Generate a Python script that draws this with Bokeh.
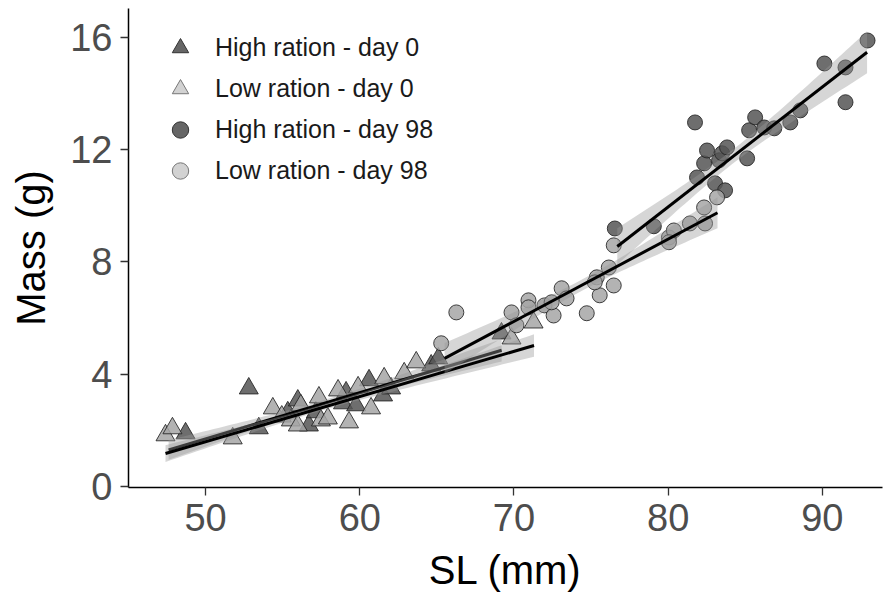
import numpy as np
from bokeh.plotting import figure
from bokeh.models import Legend, LegendItem, Range1d, FixedTicker, ColumnDataSource
from bokeh.embed import file_html
from bokeh.resources import INLINE

# ---------------- data ----------------
# High ration - day 0 (dark triangles)
hi0_sl   = [48.70, 52.80, 53.45, 55.33, 55.98, 56.70, 57.15, 58.91, 59.11, 59.76, 60.60, 61.51, 62.03, 64.63, 65.09, 69.19]
hi0_mass = [1.89, 3.49, 2.07, 2.64, 3.06, 2.17, 2.64, 2.96, 3.35, 2.89, 3.78, 3.24, 3.49, 4.31, 4.56, 5.45]
# Low ration - day 0 (light triangles)
lo0_sl   = [47.40, 47.85, 51.76, 54.36, 54.94, 55.53, 56.18, 55.98, 57.35, 57.48, 57.93, 58.59, 59.30, 59.89, 60.73, 61.58, 62.88, 63.66, 69.84, 71.27]
lo0_mass = [1.82, 2.07, 1.71, 2.78, 2.49, 2.35, 2.89, 2.17, 3.17, 2.35, 2.42, 3.42, 2.28, 3.53, 2.78, 3.85, 4.03, 4.42, 5.27, 5.84]
# High ration - day 98 (dark circles)
hi98_sl   = [76.54, 79.07, 81.74, 81.87, 82.33, 82.52, 83.04, 83.30, 83.50, 83.82, 83.69, 85.12, 85.25, 85.64, 86.23, 86.88, 87.92, 88.57, 90.13, 91.50, 91.50, 92.93]
hi98_mass = [9.19, 9.27, 12.97, 11.01, 11.51, 11.97, 10.80, 11.62, 11.87, 12.08, 10.55, 11.69, 12.69, 13.15, 12.79, 12.76, 12.97, 13.40, 15.07, 14.93, 13.69, 15.89]
# Low ration - day 98 (light circles)
lo98_sl   = [65.28, 66.26, 69.84, 70.16, 70.94, 70.94, 71.98, 72.57, 73.09, 73.41, 72.44, 74.72, 75.37, 75.56, 75.24, 76.15, 76.47, 76.47, 80.05, 80.37, 80.05, 81.41, 82.39, 82.33, 83.17]
lo98_mass = [5.10, 6.20, 6.20, 5.74, 6.63, 6.38, 6.45, 6.09, 7.06, 6.70, 6.56, 6.17, 7.45, 6.81, 7.27, 7.80, 7.16, 8.59, 8.87, 9.12, 8.70, 9.37, 9.37, 9.94, 10.30]

# fitted lines: [start, end] and confidence half-widths [start, minimum, end]
hi0_fit_x, hi0_fit_y, hi0_ci = [47.6, 69.2], [1.30, 4.85], [0.35, 0.12, 0.40]
lo0_fit_x, lo0_fit_y, lo0_ci = [47.4, 71.3], [1.17, 5.02], [0.30, 0.10, 0.40]
hi98_fit_x, hi98_fit_y, hi98_ci = [76.7, 92.9], [8.55, 15.47], [0.65, 0.25, 0.75]
lo98_fit_x, lo98_fit_y, lo98_ci = [65.5, 83.2], [4.56, 9.75], [0.55, 0.20, 0.55]

labels = ["High ration - day 0", "Low ration - day 0", "High ration - day 98", "Low ration - day 98"]
x_ticks = [50, 60, 70, 80, 90]
y_ticks = [0, 4, 8, 12, 16]

FONT = "Liberation Sans"

p = figure(width=893, height=600, output_backend="svg", toolbar_location=None,
           x_range=Range1d(45.0, 93.9), y_range=Range1d(-0.04, 17.03),
           min_border_left=128, min_border_right=11, min_border_top=8, min_border_bottom=113)
p.outline_line_color = None
p.xgrid.visible = False
p.ygrid.visible = False
p.background_fill_color = "white"

for ax in (p.xaxis[0], p.yaxis[0]):
    ax.axis_line_color = "black"
    ax.axis_line_width = 1.5
    ax.major_tick_line_color = "#333333"
    ax.major_tick_line_width = 1.3
    ax.major_tick_out = 8
    ax.major_tick_in = 0
    ax.minor_tick_line_color = None
    ax.major_label_text_font = FONT
    ax.major_label_text_font_size = "38px"
    ax.major_label_text_color = "#4d4d4d"
    ax.axis_label_text_font = FONT
    ax.axis_label_text_font_size = "40px"
    ax.axis_label_text_font_style = "normal"
    ax.axis_label_text_color = "black"

p.xaxis.ticker = FixedTicker(ticks=x_ticks)
p.yaxis.ticker = FixedTicker(ticks=y_ticks)
p.xaxis.axis_label = "SL (mm)"
p.yaxis.axis_label = "Mass (g)"
p.xaxis.major_label_standoff = 8
p.yaxis.major_label_standoff = 8
p.xaxis.axis_label_standoff = 14
p.yaxis.axis_label_standoff = 14

DARK_FILL = "#555555"
LIGHT_FILL = "#a6a6a6"
EDGE = "#222222"
PT_ALPHA = 0.85

p.scatter(hi0_sl, hi0_mass, marker="triangle", size=19, fill_color=DARK_FILL, fill_alpha=PT_ALPHA,
          line_color=EDGE, line_alpha=PT_ALPHA, line_width=1)
p.scatter(lo0_sl, lo0_mass, marker="triangle", size=19, fill_color=LIGHT_FILL, fill_alpha=PT_ALPHA,
          line_color=EDGE, line_alpha=PT_ALPHA, line_width=1)
p.scatter(hi98_sl, hi98_mass, marker="circle", size=15, fill_color=DARK_FILL, fill_alpha=PT_ALPHA,
          line_color=EDGE, line_alpha=PT_ALPHA, line_width=1)
p.scatter(lo98_sl, lo98_mass, marker="circle", size=15, fill_color=LIGHT_FILL, fill_alpha=PT_ALPHA,
          line_color=EDGE, line_alpha=PT_ALPHA, line_width=1)


def band(fx, fy, ci):
    xs, xe = fx
    hs, hm, he = ci
    r = np.sqrt((hs**2 - hm**2) / (he**2 - hm**2))
    xm = (xs + r * xe) / (1 + r)
    c = (he**2 - hm**2) / (xe - xm) ** 2
    x = np.linspace(xs, xe, 60)
    y = fy[0] + (fy[1] - fy[0]) * (x - xs) / (xe - xs)
    h = np.sqrt(hm**2 + c * (x - xm) ** 2)
    return x, y - h, y + h


for fx, fy, ci in [(hi0_fit_x, hi0_fit_y, hi0_ci), (lo0_fit_x, lo0_fit_y, lo0_ci),
                   (hi98_fit_x, hi98_fit_y, hi98_ci), (lo98_fit_x, lo98_fit_y, lo98_ci)]:
    bx, lo, hi = band(fx, fy, ci)
    p.varea(x=bx, y1=lo, y2=hi, fill_color="#999999", fill_alpha=0.4)
    p.line(fx, fy, line_color="black", line_width=3)

# legend keys: renderers holding a single undrawn (NaN) point, carrying the key styles
def key_source():
    return ColumnDataSource(dict(x=[np.nan], y=[np.nan]))

k1 = p.scatter(x="x", y="y", source=key_source(), marker="triangle", size=14,
               fill_color="#666666", line_color="#333333", line_width=1)
k2 = p.scatter(x="x", y="y", source=key_source(), marker="triangle", size=14,
               fill_color="#d2d2d2", line_color="#777777", line_width=1)
k3 = p.scatter(x="x", y="y", source=key_source(), marker="circle", size=14,
               fill_color="#666666", line_color="#333333", line_width=1)
k4 = p.scatter(x="x", y="y", source=key_source(), marker="circle", size=14,
               fill_color="#d2d2d2", line_color="#777777", line_width=1)

legend = Legend(items=[LegendItem(label=labels[0], renderers=[k1]),
                       LegendItem(label=labels[1], renderers=[k2]),
                       LegendItem(label=labels[2], renderers=[k3]),
                       LegendItem(label=labels[3], renderers=[k4])],
                location="top_left", margin=19, padding=10, spacing=0,
                glyph_width=66, glyph_height=41, label_height=41, label_standoff=2,
                label_text_font=FONT, label_text_font_size="25px", label_text_color="#1a1a1a",
                border_line_color=None, background_fill_alpha=0)
p.add_layout(legend)

open("out.html", "w").write(file_html(p, INLINE))
